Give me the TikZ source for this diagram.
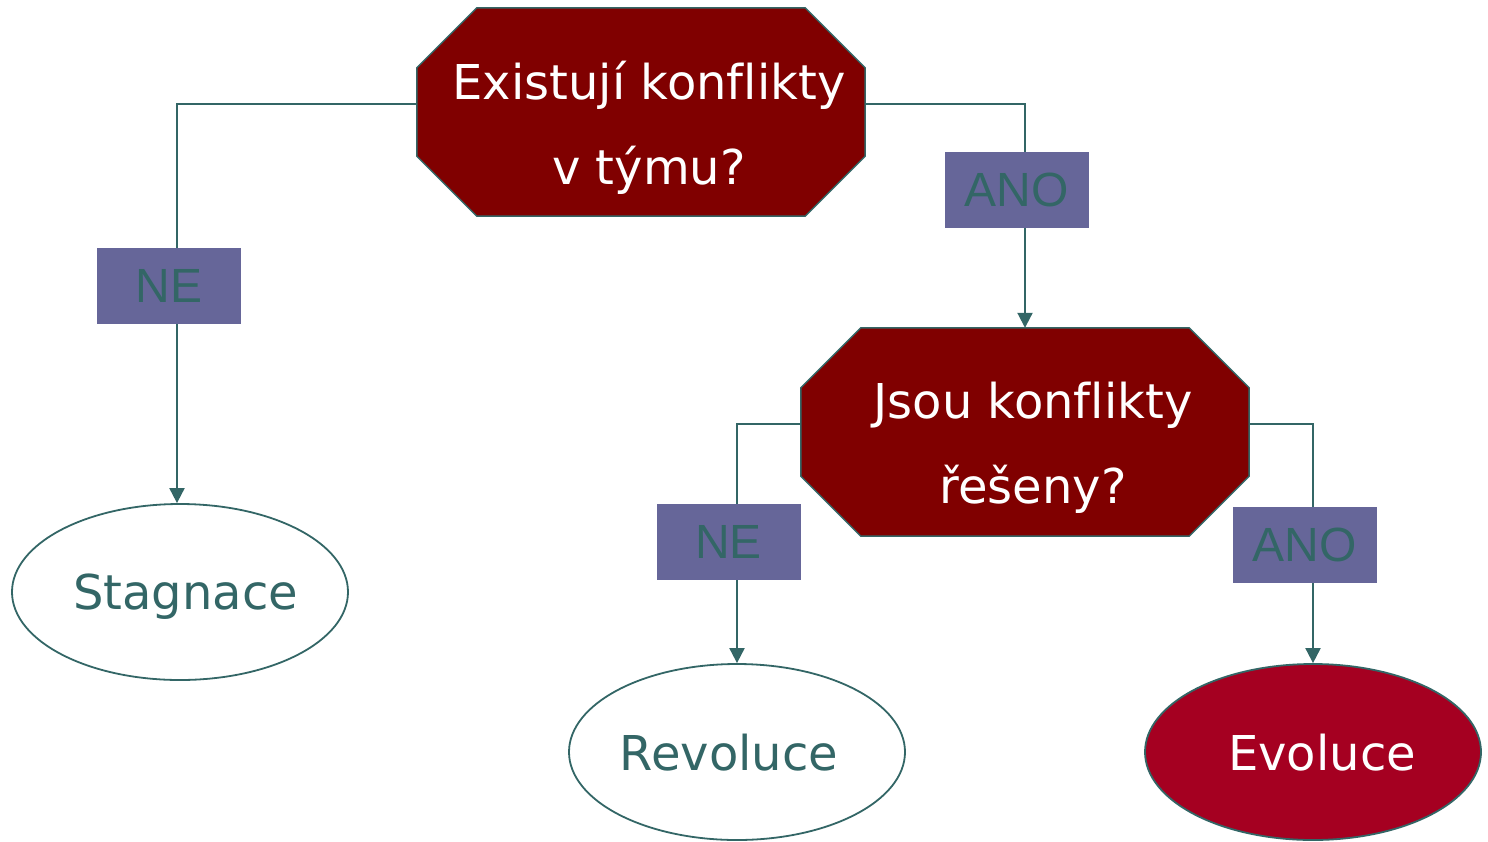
\documentclass[tikz,border=0pt]{standalone}
\usepackage{fontspec}
\setmainfont[Ligatures=NoCommon]{DejaVu Sans}
\newfontfamily\labfont{Liberation Sans}
\usetikzlibrary{arrows.meta,calc,shapes.geometric}
\definecolor{tealc}{HTML}{336666}
\definecolor{darkred}{HTML}{800000}
\definecolor{evored}{HTML}{A50021}
\definecolor{labblue}{HTML}{666699}
\pgfdeclarelayer{bg}
\pgfsetlayers{bg,main}
\tikzset{
  octbox/.style={rectangle, minimum width=448pt, minimum height=208pt, inner sep=0pt},
  octshape/.style={fill=darkred, draw=tealc, line width=1.5pt},
  octtext/.style={align=center, text=white, inner sep=0pt, font={\fontsize{48}{85}\selectfont}},
  endell/.style={ellipse, minimum width=336pt, minimum height=176pt, inner sep=0pt, draw=tealc, line width=1.8pt, text depth=0pt, font={\fontsize{48}{58}\selectfont}},
  labbox/.style={rectangle, fill=labblue, minimum width=144pt, minimum height=76pt, inner sep=0pt, text=tealc, text depth=0pt, font={\labfont\fontsize{48}{58}\selectfont}},
  conn/.style={draw=tealc, line width=2pt, -{Triangle[length=15pt,width=15pt]}}
}
\begin{document}
\begin{tikzpicture}[x=1pt,y=-1pt]
\useasboundingbox (0,0) rectangle (1488,841);
% decision nodes
\node[octbox] (q1) at (641,112) {};
\node[octbox] (q2) at (1025,432) {};
\node[octtext] (q1t) at (649,127.5) {Existují konflikty\\v týmu?};
\node[octtext] (q2t) at (1033,447.5) {Jsou konflikty\\řešeny?};
\begin{pgfonlayer}{bg}
\foreach \q in {q1,q2}{
  \filldraw[octshape] ([xshift=60pt]\q.north west) -- ([xshift=-60pt]\q.north east)
    -- ([yshift=-60pt]\q.north east) -- ([yshift=60pt]\q.south east)
    -- ([xshift=-60pt]\q.south east) -- ([xshift=60pt]\q.south west)
    -- ([yshift=60pt]\q.south west) -- ([yshift=-60pt]\q.north west) -- cycle;
}
\end{pgfonlayer}
% outcomes
\node[endell, text=tealc] (stag) at (180,592) {\hspace*{11pt}Stagnace};
\node[endell, text=tealc] (rev) at (737,752) {Revoluce\hspace*{16pt}};
\node[endell, fill=evored, text=white] (evo) at (1313,752) {\hspace*{18pt}Evoluce};
% connectors
\draw[conn] ([yshift=8pt]q1.west) -| ([xshift=-3pt]stag.north);
\draw[conn] ([yshift=8pt]q1.east) -| (q2.north);
\draw[conn] ([yshift=8pt]q2.west) -| (rev.north);
\draw[conn] ([yshift=8pt]q2.east) -| (evo.north);
% labels
\node[labbox] (ne1) at (169,286) {NE};
\node[labbox] (ano1) at (1016.5,190) {ANO};
\node[labbox] (ne2) at (728.5,542) {NE};
\node[labbox] (ano2) at (1304.5,545) {ANO};
\end{tikzpicture}
\end{document}
